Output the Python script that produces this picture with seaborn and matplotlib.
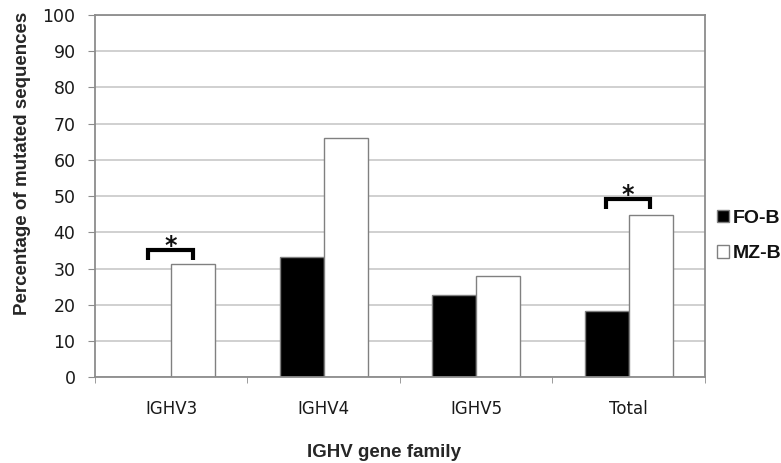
import matplotlib
matplotlib.use("Agg")
import matplotlib.pyplot as plt
import seaborn as sns
import pandas as pd

families = ["IGHV3", "IGHV4", "IGHV5", "Total"]
fo_b = [0, 33.3, 22.7, 18.3]
mz_b = [31.4, 66.0, 28.0, 44.9]
groups = ["FO-B", "MZ-B"]
# significance marks: (category index, bracket height)
sig_marks = [(0, 35.3), (3, 49.3)]

df = pd.DataFrame({
    "family": families * 2,
    "group": ["FO-B"] * len(families) + ["MZ-B"] * len(families),
    "pct": fo_b + mz_b,
})

sns.set_style("white")
plt.rcParams["font.family"] = ["DejaVu Sans"]
plt.rcParams["text.color"] = "#111111"
bold_font = "Liberation Sans"

fig = plt.figure(figsize=(7.81, 4.63), dpi=100)
ax = fig.add_axes([0.1216, 0.1847, 0.7811, 0.7829])

sns.barplot(data=df, x="family", y="pct", hue="group", hue_order=groups,
            palette={"FO-B": "black", "MZ-B": "white"}, edgecolor="#808080",
            linewidth=1.0, width=0.58, ax=ax)

ax.set_ylim(0, 100)
ax.set_xlim(-0.5, len(families) - 0.5)
ax.set_yticks(range(0, 101, 10))
ax.yaxis.grid(True, color="#c8c8c8", linewidth=1.2)
ax.set_axisbelow(True)
for s in ax.spines.values():
    s.set_visible(True)
    s.set_color("#8c8c8c")
    s.set_linewidth(1.3)

ax.tick_params(axis="y", left=True, length=5, color="#8c8c8c", labelsize=12.5,
               pad=9, labelcolor="#1a1a1a")
ax.tick_params(axis="x", bottom=False, labelsize=12, pad=13, labelcolor="#1a1a1a")
ax.set_xticks(range(len(families)))
ax.set_xticklabels(families)
ax.set_xticks([i + 0.5 for i in range(-1, len(families))], minor=True)
ax.tick_params(axis="x", which="minor", bottom=True, length=4, color="#8c8c8c")

ax.set_ylabel("Percentage of mutated sequences", fontsize=13.5, fontweight="bold",
              family=bold_font, va="center")
ax.yaxis.set_label_coords(-0.118, 0.59)
ax.set_xlabel("IGHV gene family", fontsize=13.5, fontweight="bold",
              family=bold_font, va="center")
ax.xaxis.set_label_coords(0.474, -0.208)

for i, h in sig_marks:
    x0, x1 = i - 0.15, i + 0.14
    ax.plot([x0, x0, x1, x1], [h - 2.8, h, h, h - 2.8], color="black",
            linewidth=3, solid_capstyle="butt", solid_joinstyle="miter", clip_on=False)
    ax.text((x0 + x1) / 2, h - 2.2, "*", ha="center", va="bottom", fontsize=17,
            fontweight="bold")

ax.legend(loc="center left", bbox_to_anchor=(1.02, 0.39), frameon=False,
          prop={"size": 14, "weight": "bold", "family": bold_font},
          handlelength=0.6, handleheight=0.6, handletextpad=0.2,
          labelspacing=0.95, borderaxespad=0, borderpad=0)

fig.savefig("out.png", dpi=100)
